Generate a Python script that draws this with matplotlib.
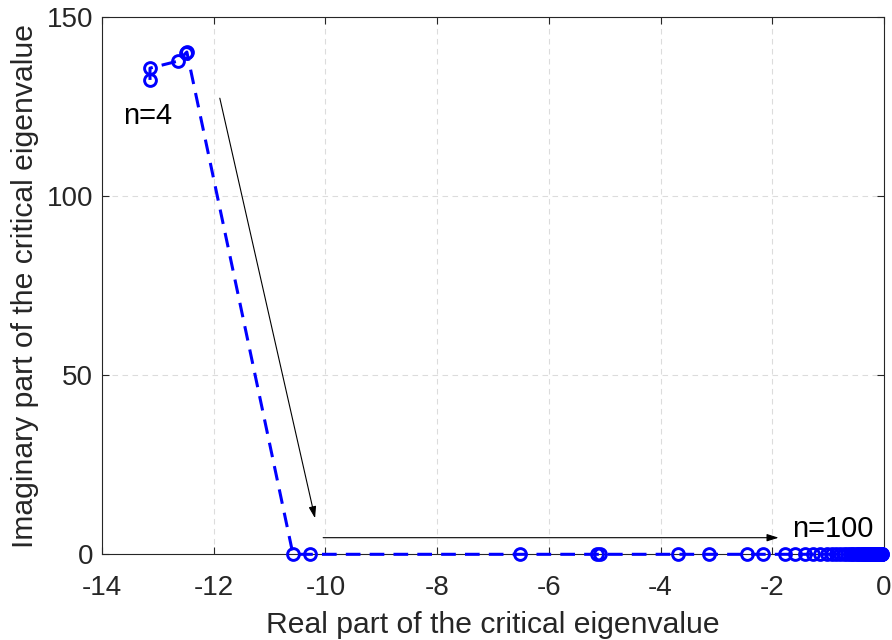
import matplotlib
matplotlib.use("Agg")
import matplotlib.pyplot as plt

plt.rcParams['font.family'] = ['Liberation Sans', 'DejaVu Sans']

# n = 4 .. 8 (upper cluster)
upper_re = [-13.14, -13.14, -12.63, -12.50, -12.48]
upper_im = [132.5, 135.8, 137.8, 140.0, 140.3]

# n = 9 .. 100 (lower branch, imaginary part zero)
lower_re = [-10.58, -10.27, -6.51, -5.13, -5.08, -3.68, -3.14, -2.45, -2.16,
            -1.77, -1.59, -1.41, -1.27, -1.14, -1.02,
            -0.93, -0.85, -0.78, -0.72, -0.66, -0.61, -0.57, -0.53, -0.49,
            -0.46, -0.43, -0.40, -0.375, -0.35, -0.33, -0.31, -0.29, -0.275,
            -0.26, -0.245, -0.23, -0.22, -0.21, -0.20, -0.19, -0.18, -0.17,
            -0.162, -0.155, -0.148, -0.141, -0.135, -0.129, -0.123, -0.118,
            -0.113, -0.108, -0.104, -0.100, -0.096, -0.092, -0.088, -0.085,
            -0.082, -0.079, -0.076, -0.073, -0.070, -0.068, -0.066, -0.064,
            -0.062, -0.060, -0.058, -0.056, -0.054, -0.052, -0.050, -0.048,
            -0.046, -0.044, -0.042]
lower_im = [0.0] * len(lower_re)

re_vals = upper_re + lower_re
im_vals = upper_im + lower_im

xticks = [-14, -12, -10, -8, -6, -4, -2, 0]
yticks = [0, 50, 100, 150]

fig = plt.figure(figsize=(8.92, 6.40), dpi=100)
ax = fig.add_axes([0.1143, 0.1339, 0.8767, 0.8391])

ax.plot(re_vals, im_vals, linestyle=(0, (4.8, 3.0)), color='#0000ff', lw=2.2,
        marker='o', markersize=8.5, markerfacecolor='none',
        markeredgecolor='#0000ff', markeredgewidth=2.1, clip_on=False, zorder=3)

ax.set_xlim(-14, 0)
ax.set_ylim(0, 150)
ax.set_xticks(xticks)
ax.set_yticks(yticks)
ax.set_xticklabels([str(t) for t in xticks])
ax.set_yticklabels([str(t) for t in yticks])

ax.grid(True, linestyle=(0, (5, 4)), color='#dcdcdc', lw=0.8)
ax.set_axisbelow(True)
ax.tick_params(direction='in', top=True, right=True, length=5, width=0.8,
               colors='#262626', labelsize=20)
ax.tick_params(axis='x', pad=15)
ax.tick_params(axis='y', pad=6.5)
for s in ax.spines.values():
    s.set_color('#262626')
    s.set_linewidth(0.8)

ax.set_xlabel('Real part of the critical eigenvalue', fontsize=21.7, color='#262626', labelpad=7)
ax.set_ylabel('Imaginary part of the critical eigenvalue', fontsize=21.7, color='#262626', labelpad=5)

arrow_kw = dict(arrowstyle='-|>,head_length=0.7,head_width=0.22', color='black', lw=0.8,
                shrinkA=0, shrinkB=0)
ax.annotate('', xy=(-10.185, 10.06), xytext=(-11.89, 127.4), arrowprops=arrow_kw)
ax.annotate('', xy=(-1.886, 4.64), xytext=(-10.04, 4.64), arrowprops=arrow_kw)

ax.text(-13.62, 120.2, 'n=4', fontsize=21, va='baseline', ha='left', color='black')
ax.text(-1.645, 4.75, 'n=100', fontsize=21, va='baseline', ha='left', color='black')

fig.savefig('out.png', dpi=100)
